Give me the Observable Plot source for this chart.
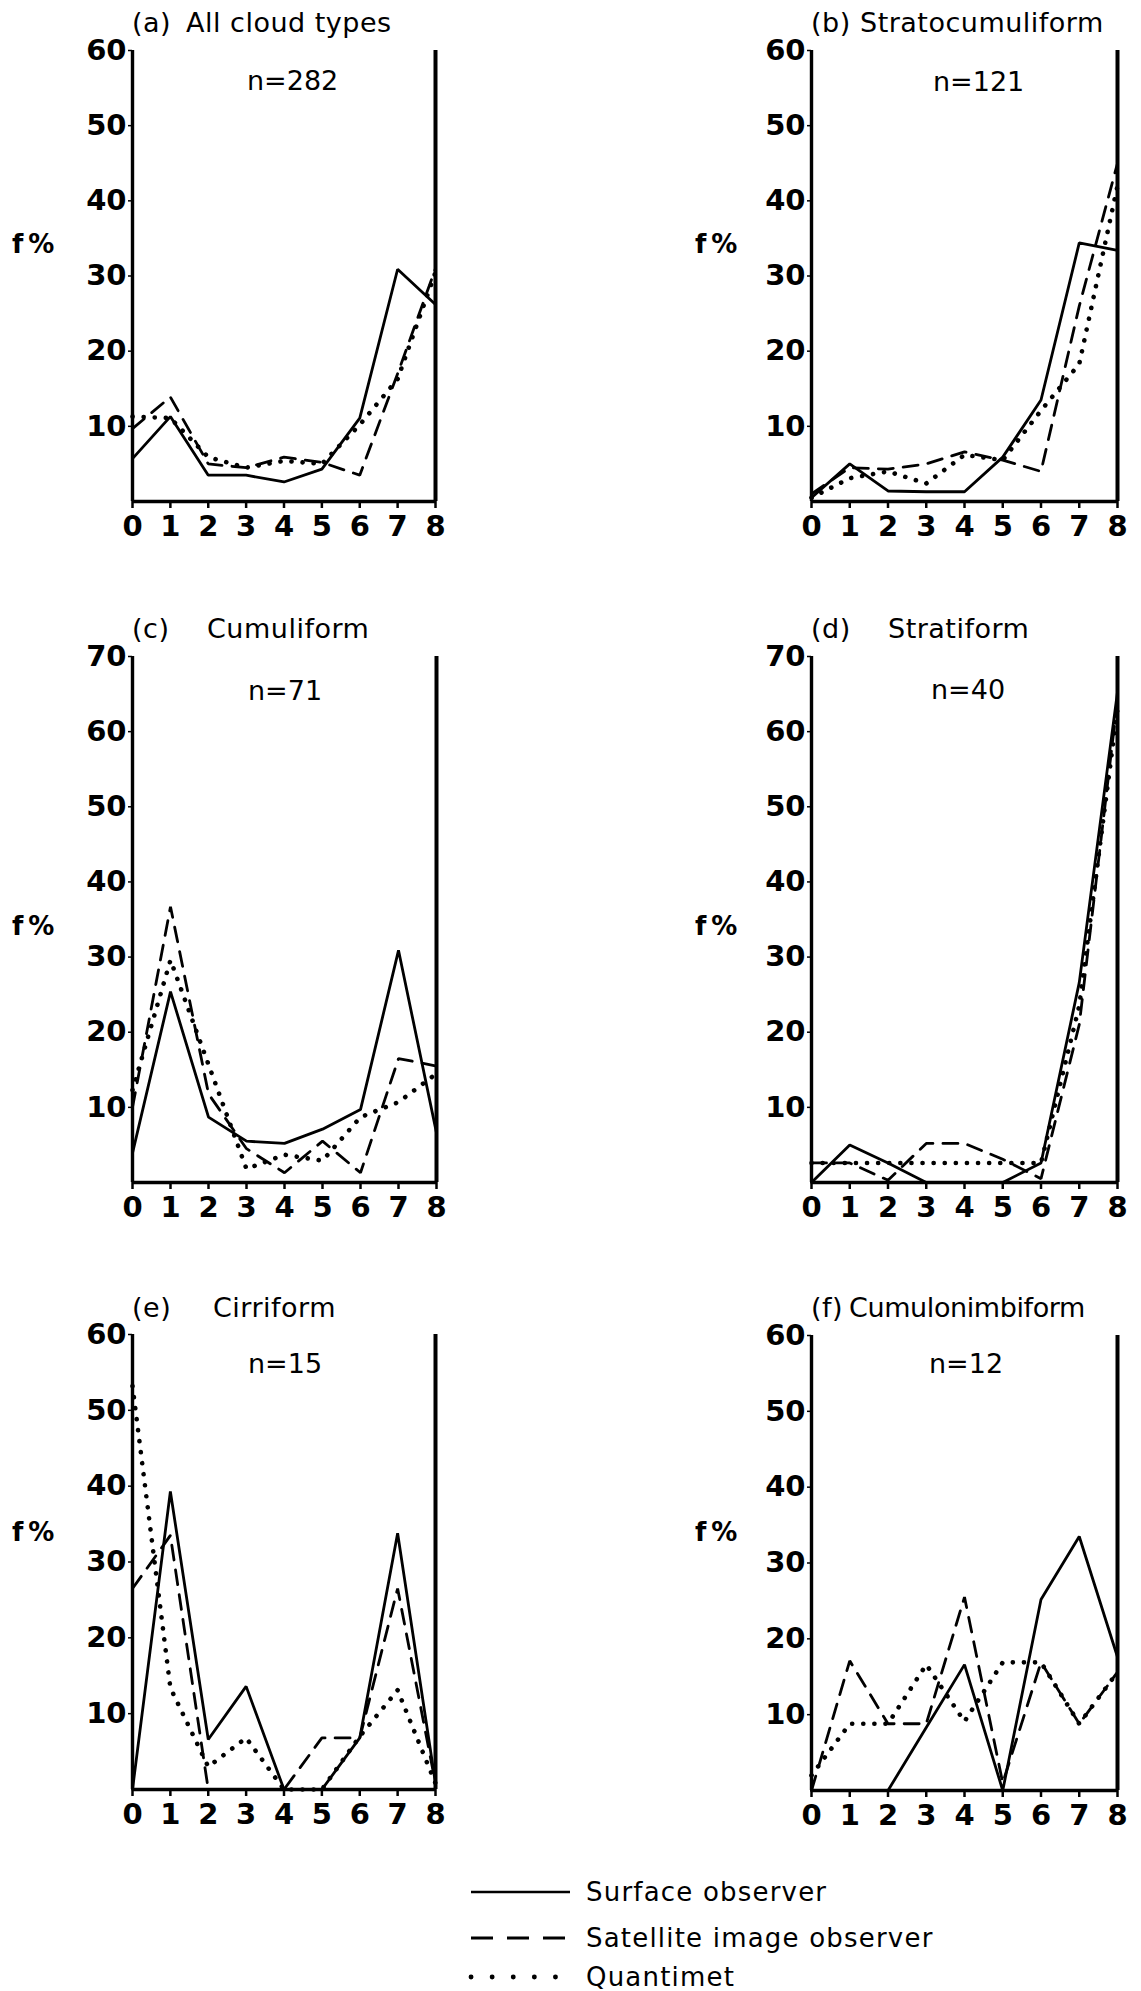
<!DOCTYPE html>
<html>
<head>
<meta charset="utf-8">
<script src="https://cdn.jsdelivr.net/npm/d3@7"></script>
<script src="https://cdn.jsdelivr.net/npm/@observablehq/plot@0.6"></script>
<style>
  body { margin: 0; background: #fff; }
  #fig { position: relative; width: 1141px; height: 1991px; background: #fff; overflow: hidden;
         font-family: "DejaVu Sans", sans-serif; color: #000; }
  .lbl { position: absolute; white-space: nowrap; line-height: 1; transform: translateY(-50%); }
  .title { font-size: 27px; letter-spacing: 0.5px; }
  .nlab { font-size: 27px; }
  .ylab { font-size: 26px; font-weight: bold; letter-spacing: 5px; }
  .leg { font-size: 26px; letter-spacing: 1.2px; }
  .panel { position: absolute; }
</style>
</head>
<body>
<div id="fig"></div>
<script>
// ---------------- data ----------------
const cloudCover = [0, 1, 2, 3, 4, 5, 6, 7, 8];
const seriesNames = ["Surface observer", "Satellite image observer", "Quantimet"];
const panelTags = ["(a)", "(b)", "(c)", "(d)", "(e)", "(f)"];
const panelNames = ["All cloud types", "Stratocumuliform", "Cumuliform", "Stratiform", "Cirriform", "Cumulonimbiform"];
const sampleSizes = [282, 121, 71, 40, 15, 12];
const yMaxima = [60, 60, 70, 70, 60, 60];
const xTickLabels = [0, 1, 2, 3, 4, 5, 6, 7, 8];
const yTicks60 = [10, 20, 30, 40, 50, 60];
const yTicks70 = [10, 20, 30, 40, 50, 60, 70];
const yAxisLabel = "f%";

const surfaceA   = [5.7, 11.3, 3.5, 3.5, 2.6, 4.3, 11.1, 30.9, 26.2];
const satelliteA = [9.7, 13.9, 5.0, 4.5, 5.9, 5.2, 3.5, 17, 31];
const quantimetA = [11.3, 11.1, 5.9, 4.5, 5.4, 5.0, 10.2, 16.3, 30.5];

const surfaceB   = [0.5, 5.0, 1.4, 1.3, 1.3, 5.9, 13.5, 34.4, 33.4];
const satelliteB = [1, 4.5, 4.3, 5.0, 6.6, 5.5, 4.0, 26, 45];
const quantimetB = [0.5, 3.1, 4.0, 2.4, 6.2, 5.5, 12.1, 18.3, 42];

const surfaceC   = [3.9, 25.4, 8.7, 5.5, 5.2, 7.1, 9.7, 30.9, 6.6];
const satelliteC = [10, 36.7, 11.8, 4.5, 1.3, 5.5, 1.3, 16.5, 15.5];
const quantimetC = [12.3, 29.6, 15.7, 1.8, 3.7, 2.9, 8.7, 10.7, 14.5];

const surfaceD   = [0, 5, 2.6, 0, 0, 0, 2.6, 26.6, 65.3];
const satelliteD = [2.6, 2.6, 0.3, 5.2, 5.2, 3.1, 0.5, 21, 64.3];
const quantimetD = [2.6, 2.6, 2.6, 2.6, 2.6, 2.6, 2.6, 23.5, 63];

const surfaceE   = [0, 39.3, 6.6, 13.6, 0, 0, 6.8, 33.8, 0.8];
const satelliteE = [26.5, 33.5, 0, 0, 0, 6.8, 6.8, 26.5, 0.8];
const quantimetE = [53.2, 13.4, 3, 6.8, 0, 0, 7, 13.1, 0.8];

const surfaceF   = [0, 0, 0, 8.3, 16.6, 0, 25.2, 33.5, 17.6];
const satelliteF = [0, 17.1, 8.8, 8.8, 25.5, 1, 16.9, 8.8, 15.6];
const quantimetF = [2, 8.8, 8.8, 16.6, 9.1, 16.9, 16.9, 8.8, 15.6];

const panelSeries = [
  [surfaceA, satelliteA, quantimetA],
  [surfaceB, satelliteB, quantimetB],
  [surfaceC, satelliteC, quantimetC],
  [surfaceD, satelliteD, quantimetD],
  [surfaceE, satelliteE, quantimetE],
  [surfaceF, satelliteF, quantimetF]
];

// ---------------- layout (pixels) ----------------
const layout = [
  {L: 132, R: 435, T: 50,   B: 501,  titleY: 22,   nameX: 186, nX: 247, nY: 80,   fX: 12,  fY: 244},
  {L: 811, R: 1117, T: 50,  B: 501,  titleY: 22,   nameX: 860, nX: 933, nY: 81,   fX: 695, fY: 244},
  {L: 132, R: 436, T: 656,  B: 1182, titleY: 628,  nameX: 207, nX: 248, nY: 690,  fX: 12,  fY: 926},
  {L: 811, R: 1117, T: 656, B: 1182, titleY: 628,  nameX: 888, nX: 931, nY: 689,  fX: 695, fY: 926},
  {L: 132, R: 435, T: 1334, B: 1789, titleY: 1307, nameX: 213, nX: 248, nY: 1363, fX: 12,  fY: 1532},
  {L: 811, R: 1117, T: 1335, B: 1790, titleY: 1307, nameX: 849, nX: 929, nY: 1363, fX: 695, fY: 1532}
];
const styles = [
  {strokeWidth: 2.8},
  {strokeWidth: 2.8, strokeDasharray: "15,10"},
  {strokeWidth: 4.6, strokeDasharray: "0.1,11", strokeLinecap: "round"}
];

const fig = document.getElementById("fig");
function addLabel(text, cls, x, y) {
  const d = document.createElement("div");
  d.className = "lbl " + cls;
  d.textContent = text;
  d.style.left = x + "px";
  d.style.top = y + "px";
  fig.appendChild(d);
  return d;
}

const mL = 80, mR = 12, mT = 12, mB = 50;
panelSeries.forEach((series, i) => {
  const g = layout[i];
  const rows = [];
  series.forEach((vals, s) => vals.forEach((v, k) => rows.push({series: seriesNames[s], cover: cloudCover[k], f: v})));
  const lineMarks = seriesNames.map((name, s) =>
    Plot.line(rows.filter(r => r.series === name), {x: "cover", y: "f", stroke: "black", strokeLinejoin: "miter", ...styles[s]}));
  const chart = Plot.plot({
    width: mL + (g.R - g.L) + mR,
    height: mT + (g.B - g.T) + mB,
    marginLeft: mL, marginRight: mR, marginTop: mT, marginBottom: mB,
    x: {domain: [0, 8]},
    y: {domain: [0, yMaxima[i]]},
    style: {fontFamily: "DejaVu Sans, sans-serif", background: "transparent", overflow: "visible", color: "black"},
    marks: [
      Plot.axisX({ticks: xTickLabels, tickSize: 7, tickPadding: 7, strokeWidth: 2.5, fontSize: 29, fontWeight: "bold", tickFormat: d => String(d), label: null}),
      Plot.axisY({ticks: yMaxima[i] === 70 ? yTicks70 : yTicks60, tickSize: 4, tickPadding: 2, strokeWidth: 1.5, fontSize: 29, fontWeight: "bold", tickFormat: d => String(d), label: null}),
      ...lineMarks,
      Plot.ruleX([0], {strokeWidth: 3.4}),
      Plot.ruleX([8], {strokeWidth: 4}),
      Plot.ruleY([0], {strokeWidth: 3.4})
    ]
  });
  chart.classList.add("panel");
  chart.style.left = (g.L - mL) + "px";
  chart.style.top = (g.T - mT) + "px";
  fig.appendChild(chart);

  addLabel(panelTags[i], "title", g.L, g.titleY);
  const nm = addLabel(panelNames[i], "title", g.nameX, g.titleY);
  if (i === 5) nm.style.letterSpacing = "-0.4px";
  addLabel("n=" + sampleSizes[i], "nlab", g.nX, g.nY);
  addLabel(yAxisLabel, "ylab", g.fX, g.fY);
});

// ---------------- legend ----------------
const legendY = [1892, 1938, 1977];
const legX0 = 471, legX1 = 570, legTextX = 586;
const svgNS = "http://www.w3.org/2000/svg";
const leg = document.createElementNS(svgNS, "svg");
leg.setAttribute("width", 1141); leg.setAttribute("height", 1991);
leg.style.position = "absolute"; leg.style.left = "0px"; leg.style.top = "0px";
const legStyles = [
  {w: 2.6, dash: null, cap: "butt"},
  {w: 2.8, dash: "22,14", cap: "butt"},
  {w: 4.8, dash: "0.1,21", cap: "round"}
];
seriesNames.forEach((name, s) => {
  const ln = document.createElementNS(svgNS, "line");
  ln.setAttribute("x1", legX0); ln.setAttribute("x2", legX1);
  ln.setAttribute("y1", legendY[s]); ln.setAttribute("y2", legendY[s]);
  ln.setAttribute("stroke", "black");
  ln.setAttribute("stroke-width", legStyles[s].w);
  ln.setAttribute("stroke-linecap", legStyles[s].cap);
  if (legStyles[s].dash) ln.setAttribute("stroke-dasharray", legStyles[s].dash);
  leg.appendChild(ln);
  addLabel(name, "leg", legTextX, legendY[s]);
});
fig.appendChild(leg);
</script>
</body>
</html>
